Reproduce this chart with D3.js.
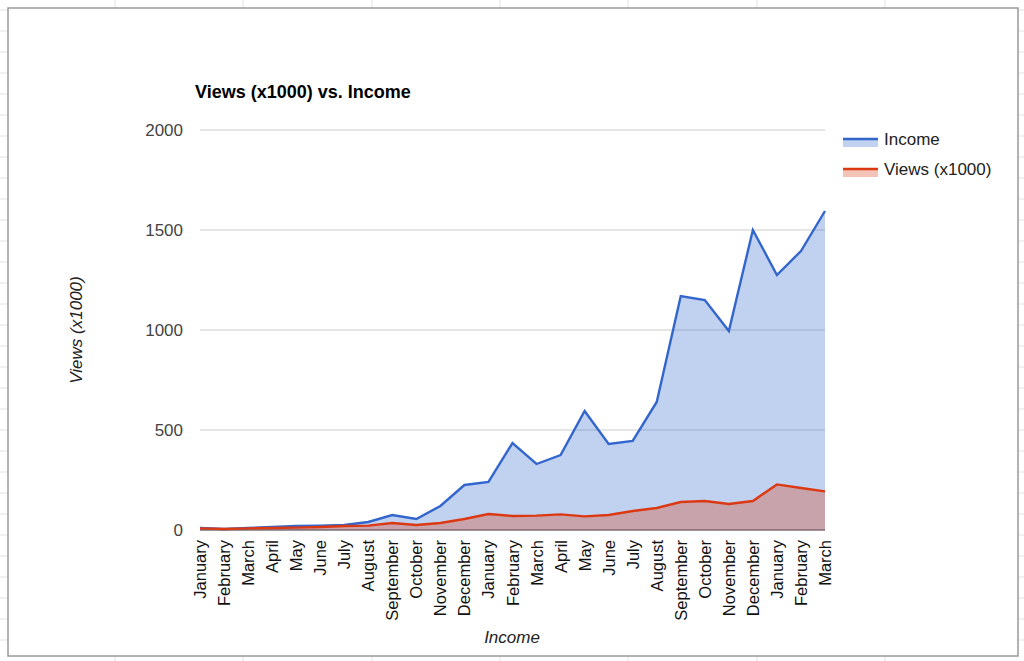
<!DOCTYPE html>
<html><head><meta charset="utf-8">
<script src="https://cdn.jsdelivr.net/npm/d3@7"></script>
<style>body{margin:0;background:#fff}svg{display:block;font-family:Arial,"Liberation Sans",sans-serif}</style>
</head><body><svg id="c" width="1024" height="661"></svg>
<script>
const categories=["January","February","March","April","May","June","July","August","September","October","November","December","January","February","March","April","May","June","July","August","September","October","November","December","January","February","March"];
const income=[10,5,10,15,20,22,25,40,75,55,120,225,240,435,330,375,595,430,445,640,1170,1150,995,1500,1275,1395,1595];
const views=[8,5,8,10,12,15,20,22,35,25,35,55,80,70,72,78,68,75,95,110,140,145,130,145,228,210,193];
const yTicks=[0,500,1000,1500,2000];

const svg=d3.select("#c");
const bg=svg.append("g");
[115,243,372,500,628,757,885].forEach(x=>bg.append("line").attr("x1",x).attr("x2",x).attr("y1",0).attr("y2",661).attr("stroke","#e2e2e2"));
for(let y=10;y<661;y+=21)bg.append("line").attr("x1",0).attr("x2",1024).attr("y1",y).attr("y2",y).attr("stroke","#e2e2e2");
svg.append("rect").attr("x",8).attr("y",8).attr("width",1010).attr("height",648).attr("fill","#fff").attr("stroke","#999").attr("stroke-width",1.5);

const x=d3.scalePoint().domain(d3.range(categories.length)).range([200,825]);
const y=d3.scaleLinear().domain([0,2000]).range([530,130]);

const g=svg.append("g");
yTicks.forEach(t=>{
  g.append("line").attr("x1",200).attr("x2",825).attr("y1",y(t)).attr("y2",y(t)).attr("stroke",t===0?"#333":"#ccc");
  g.append("text").attr("x",183).attr("y",y(t)+6).attr("text-anchor","end").attr("font-size",17).attr("fill","#444").text(t);
});
const area=d=>d3.area().x((v,i)=>x(i)).y0(y(0)).y1(v=>y(v))(d);
const line=d=>d3.line().x((v,i)=>x(i)).y(v=>y(v))(d);
g.append("path").attr("d",area(income)).attr("fill","#3366cc").attr("fill-opacity",0.3);
g.append("path").attr("d",area(views)).attr("fill","#dc3912").attr("fill-opacity",0.3);
g.append("path").attr("d",line(income)).attr("fill","none").attr("stroke","#3366cc").attr("stroke-width",2.4);
g.append("path").attr("d",line(views)).attr("fill","none").attr("stroke","#dc3912").attr("stroke-width",2.4);

categories.forEach((c,i)=>{
  g.append("text").attr("transform",`translate(${x(i)+6},540) rotate(-90)`).attr("text-anchor","end").attr("font-size",16.5).attr("fill","#111").text(c);
});
svg.append("text").attr("x",195).attr("y",98).attr("font-size",18).attr("font-weight","bold").text("Views (x1000) vs. Income");
svg.append("text").attr("x",512).attr("y",643).attr("text-anchor","middle").attr("font-size",17).attr("font-style","italic").attr("fill","#222").text("Income");
svg.append("text").attr("transform","translate(82,330) rotate(-90)").attr("text-anchor","middle").attr("font-size",17).attr("font-style","italic").attr("fill","#222").text("Views (x1000)");

const leg=[["Income","#3366cc",139],["Views (x1000)","#dc3912",169]];
leg.forEach(([t,c,yy])=>{
  svg.append("rect").attr("x",843).attr("y",yy).attr("width",35).attr("height",8).attr("fill",c).attr("fill-opacity",0.3);
  svg.append("line").attr("x1",843).attr("x2",878).attr("y1",yy).attr("y2",yy).attr("stroke",c).attr("stroke-width",2.4);
  svg.append("text").attr("x",884).attr("y",yy+6).attr("font-size",17).attr("fill","#222").text(t);
});
</script></body></html>
